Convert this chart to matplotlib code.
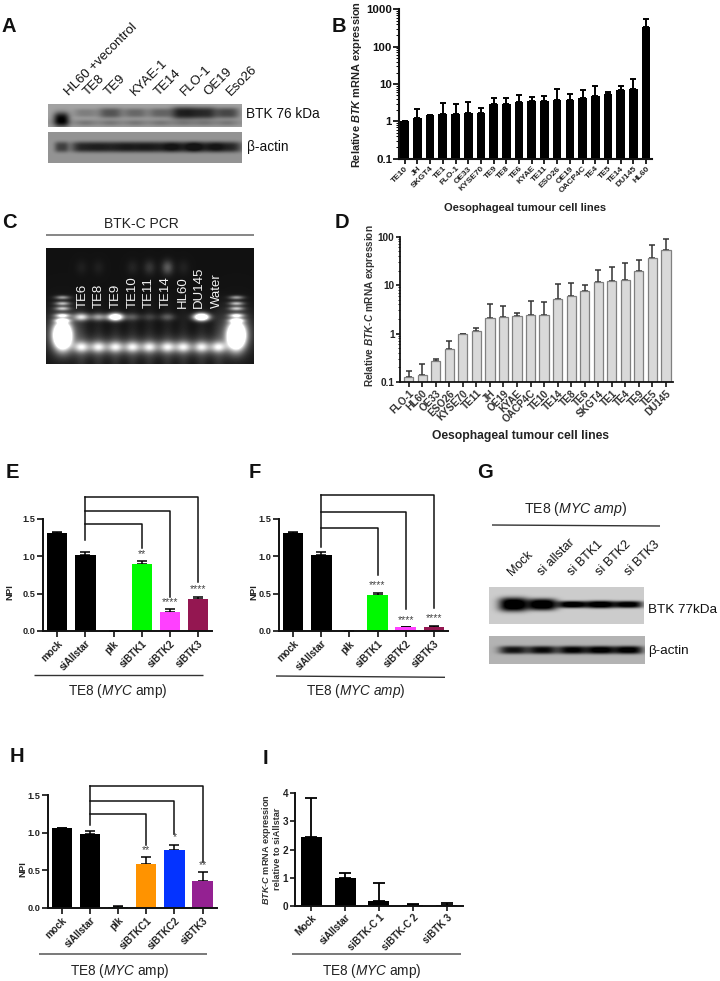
import numpy as np
import matplotlib
matplotlib.use("Agg")
import matplotlib.pyplot as plt

plt.rcParams['font.family'] = ['Liberation Sans', 'DejaVu Sans']
plt.rcParams['mathtext.fontset'] = 'custom'
plt.rcParams['mathtext.rm'] = 'Liberation Sans'
plt.rcParams['mathtext.it'] = 'Liberation Sans:italic'
plt.rcParams['mathtext.bf'] = 'Liberation Sans:bold'
plt.rcParams['mathtext.bfit'] = 'Liberation Sans:italic:bold'

W, H = 720, 981

# ---------- data ----------
b_lines = ["TE10", "JH", "SKGT4", "TE1", "FLO-1", "OE33", "KYSE70", "TE9", "TE8", "TE6", "KYAE",
           "TE11", "ESO26", "OE19", "OACP4C", "TE4", "TE5", "TE14", "DU145", "HL60"]
b_vals = [1.0, 1.2, 1.45, 1.55, 1.6, 1.65, 1.7, 2.9, 3.0, 3.3, 3.4, 3.5, 3.7, 3.7, 4.2, 4.7, 5.5, 7.0, 7.2, 330]
b_tops = [1.0, 2.2, 1.5, 3.1, 3.0, 3.3, 2.3, 4.2, 4.1, 5.0, 4.4, 4.9, 7.3, 5.4, 6.9, 8.6, 6.0, 9.0, 14, 560]

d_lines = ["FLO-1", "HL60", "OE33", "ESO26", "KYSE70", "TE11", "JH", "OE19", "KYAE", "OACP4C", "TE10",
           "TE14", "TE8", "TE6", "SKGT4", "TE1", "TE4", "TE9", "TE5", "DU145"]
d_vals = [0.125, 0.14, 0.27, 0.47, 1.0, 1.15, 2.1, 2.2, 2.3, 2.4, 2.45, 5.2, 5.9, 7.5, 11.5, 12.2, 13, 19.5, 36, 54]
d_tops = [0.165, 0.23, 0.30, 0.69, 1.0, 1.32, 4.0, 3.7, 2.7, 4.6, 4.4, 10.6, 11, 10.3, 20.5, 24, 29, 33, 68, 90]

npi_labels_ef = ["mock", "siAllstar", "plk", "siBTK1", "siBTK2", "siBTK3"]
e_vals = [1.31, 1.02, 0, 0.89, 0.25, 0.43]
e_tops = [1.32, 1.05, 0, 0.93, 0.29, 0.46]
e_colors = ["#000000", "#000000", "#000000", "#00f900", "#ff40ff", "#941751"]
e_sig = ["", "", "", "**", "****", "****"]

f_vals = [1.31, 1.02, 0, 0.48, 0.05, 0.06]
f_tops = [1.32, 1.05, 0, 0.51, 0.055, 0.07]
f_colors = ["#000000", "#000000", "#000000", "#00f900", "#ff40ff", "#941751"]
f_sig = ["", "", "", "****", "****", "****"]

h_labels = ["mock", "siAllstar", "plk", "siBTKC1", "siBTKC2", "siBTK3"]
h_vals = [1.06, 0.99, 0.015, 0.585, 0.77, 0.35]
h_tops = [1.07, 1.02, 0.02, 0.67, 0.84, 0.475]
h_colors = ["#000000", "#000000", "#00a030", "#ff9300", "#0433ff", "#942192"]
h_sig = ["", "", "", "**", "*", "**"]

i_labels = ["Mock", "siAllstar", "siBTK-C 1", "siBTK-C 2", "siBTK 3"]
i_vals = [2.45, 0.97, 0.17, 0.02, 0.04]
i_tops = [3.82, 1.18, 0.82, 0.05, 0.10]

a_lanes = ["HL60 +vecontrol", "TE8", "TE9", "KYAE-1", "TE14", "FLO-1", "OE19", "Eso26"]
a_btk = [1.0, 0.28, 0.6, 0.45, 0.48, 1.0, 0.92, 0.7]
a_actin = [0.6, 0.8, 0.8, 0.85, 0.82, 0.8, 0.8, 0.8]

c_lanes = ["TE6", "TE8", "TE9", "TE10", "TE11", "TE14", "HL60", "DU145", "Water"]
c_band = [0.75, 0.5, 1.4, 0.25, 0.15, 0.25, 0.0, 1.6, 0.0]
c_upper = [0.05, 0.05, 0.0, 0.07, 0.14, 0.28, 0.06, 0.0, 0.0]

g_lanes = ["Mock", "si allstar", "si BTK1", "si BTK2", "si BTK3"]
g_btk = [1.0, 1.0, 0.95, 0.95, 0.9]
g_actin = [0.8, 0.85, 0.9, 0.95, 0.95]


# ---------- helpers ----------
fig = plt.figure(figsize=(W / 100, H / 100), dpi=100, facecolor="white")


def px_axes(l, t, r, b):
    return fig.add_axes([l / W, 1 - b / H, (r - l) / W, (b - t) / H])


overlay = fig.add_axes([0, 0, 1, 1], zorder=10)
overlay.set_xlim(0, W)
overlay.set_ylim(H, 0)
overlay.axis("off")


def txt(x, y, s, size=9.5, ha="center", va="center", **kw):
    overlay.text(x, y, s, fontsize=size, ha=ha, va=va, **kw)


def hline(x0, x1, y0, y1=None, color="#333333", lw=1.0):
    overlay.plot([x0, x1], [y0, y0 if y1 is None else y1], color=color, lw=lw, solid_capstyle="butt")


def style(ax, lw=1.4):
    for s in ("top", "right"):
        ax.spines[s].set_visible(False)
    for s in ("left", "bottom"):
        ax.spines[s].set_linewidth(lw)
        ax.spines[s].set_color("#111111")


def bars(ax, vals, tops, colors, width, ecolor="black", elw=1.3, cap=3.0, edge=None, elinew=0):
    x = np.arange(len(vals))
    v = np.array(vals, float)
    t = np.array(tops, float)
    ax.bar(x, v, width=width, color=colors, edgecolor=edge if edge else colors, linewidth=elinew, zorder=2)
    ax.errorbar(x, v, yerr=[np.zeros_like(v), t - v], fmt="none", ecolor=ecolor, elinewidth=elw,
                capsize=cap, capthick=elw, zorder=1)
    return x


def tick_labels(ax, labels, size, color="#222222"):
    ax.set_xticks(np.arange(len(labels)))
    ax.set_xticklabels(labels, rotation=45, ha="right", rotation_mode="anchor",
                       fontsize=size, fontweight="bold", color=color)


def npi_panel(box, vals, tops, colors, labels, sig, bracket_tops, bracket_ends, stem_low, label_x):
    l, t, r, b = box
    ax = px_axes(l, t, r, b)
    style(ax)
    ax.set_ylim(0, 1.5)
    ax.set_xlim(-0.5, 5.5)
    x = bars(ax, vals, tops, colors, 0.72, elw=1.1, cap=3.8)
    tick_labels(ax, labels, 7)
    ax.set_yticks([0, 0.5, 1.0, 1.5])
    ax.set_yticklabels(["0.0", "0.5", "1.0", "1.5"], fontsize=6.6, fontweight="bold", color="#222222")
    ax.tick_params(axis="both", length=4, width=1.2, pad=1.5, color="#111111")
    txt(label_x, (t + b) / 2 + 0.4 * (b - t) / 2 - 5, "NPI", size=6.8, rotation=90, fontweight="bold", color="#222222")
    for i, s in enumerate(sig):
        if s:
            ax.text(x[i], tops[i] + 0.03, s, ha="center", va="bottom", fontsize=7.5, color="#444444",
                    clip_on=False)
    lines = [3, 4, 5]
    ax.plot([1, 1], [stem_low, max(bracket_tops)], color="#111111", lw=1.1, clip_on=False)
    for k, tp, end in zip(lines, bracket_tops, bracket_ends):
        ax.plot([1, k, k], [tp, tp, end], color="#111111", lw=1.1, clip_on=False)
    return ax


def gaussian_field(shape):
    yy, xx = np.mgrid[0:shape[0], 0:shape[1]]
    return xx, yy


def blob(xx, yy, cx, cy, sx, sy, power=2.0):
    return np.exp(-(np.abs((xx - cx) / sx) ** power + np.abs((yy - cy) / sy) ** power) / 2)


def show(box, arr, cmap="gray", vmin=0, vmax=1):
    l, t, r, b = box
    ax = px_axes(l, t, r, b)
    ax.imshow(arr, cmap=cmap, vmin=vmin, vmax=vmax, aspect="auto", interpolation="bilinear")
    ax.axis("off")
    return ax


# ---------- panel letters ----------
for s, x, y in [("A", 8.5, 26), ("B", 339, 26), ("C", 9, 222), ("D", 342, 222), ("E", 12, 472),
                ("F", 255, 472), ("G", 485, 473), ("H", 17, 756), ("I", 265, 758)]:
    txt(x, y, s, size=14.5, fontweight="bold", color="#111111")

# ---------- A: western blot ----------
a_x = np.array([61, 85, 110, 135, 160, 183, 204, 227]) - 48.0
box = (48, 104, 242, 127)
xx, yy = gaussian_field((23, 194))
img = np.full(xx.shape, 0.64) - 0.05 * np.exp(-((yy - 18) / 4.0) ** 2)
for i, (c, v) in enumerate(zip(a_x, a_btk)):
    if i == 0:
        img -= 0.62 * blob(xx, yy, c, 15, 6, 5.5, 2.6)
    else:
        img -= 0.52 * v * blob(xx, yy, c, 8.5, 9.5, 2.8 + 2.0 * v, 3)
        img -= 0.12 * blob(xx, yy, c, 18.5, 8, 2.2)
show(box, np.clip(img, 0, 1))
box = (48, 132, 242, 163)
xx, yy = gaussian_field((31, 194))
img = np.full(xx.shape, 0.58)
for c, v in zip(a_x, a_actin):
    img -= 0.55 * v * blob(xx, yy, c, 14.5, 11.5 if v > 0.7 else 5.5, 4.2, 3)
show(box, np.clip(img, 0.08, 1))
for c, name in zip([71, 90, 111, 137, 161, 187, 210, 233], a_lanes):
    overlay.text(c, 98, name, rotation=45, ha="left", va="bottom", rotation_mode="anchor",
                 fontsize=9.5, color="#111111")
txt(246.5, 114, "BTK 76 kDa", size=9.8, ha="left", color="#111111")
txt(246.5, 147, "β-actin", size=9.8, ha="left", color="#111111")

# ---------- B ----------
ax = px_axes(399, 9.3, 652, 158.7)
style(ax, 1.5)
ax.set_yscale("log")
ax.set_ylim(0.1, 1000)
ax.set_xlim(-0.45, 19.47)
bars(ax, b_vals, b_tops, "black", 0.68, elw=1.4, cap=2.1)
tick_labels(ax, b_lines, 6)
ax.set_yticks([0.1, 1, 10, 100, 1000])
ax.set_yticklabels(["0.1", "1", "10", "100", "1000"], fontsize=8.2, fontweight="bold", color="#111111")
ax.tick_params(axis="y", which="major", length=4, width=1.2, pad=1)
ax.tick_params(axis="y", which="minor", length=2, width=0.7)
ax.tick_params(axis="x", length=3.5, width=1.2, pad=1)
overlay.text(357.5, 84, r"Relative $\mathbfit{BTK}$ mRNA expression", rotation=90, ha="center", va="center",
             fontsize=7.9, fontweight="bold", color="#222222")
txt(525, 208, "Oesophageal tumour cell lines", size=8.05, fontweight="bold", color="#222222")

# ---------- C: gel ----------
box = (46, 248, 254, 364)
xx, yy = gaussian_field((116, 208))
img = np.full(xx.shape, 0.07)
c_x = np.array([81, 98, 115, 132, 149, 167, 183, 201, 218]) - 46.0
for cx, v, u in zip(c_x, c_band, c_upper):
    img += v * blob(xx, yy, cx, 68.5, 5.5, 2.6)
    img += u * blob(xx, yy, cx, 19, 4, 5)
    img += 0.55 * blob(xx, yy, cx, 98.5, 5.5, 3.6)
    img += 0.2 * blob(xx, yy, cx, 98.5, 9, 7)
    img += 0.09 * np.exp(-((xx - cx) / 6.0) ** 2) * np.clip((yy - 40) / 60.0, 0, 1)
for cx in (16.0, 190.0):
    for cy, a in [(49, 0.5), (55, 0.6), (60, 0.6), (67, 0.7), (72, 0.7)]:
        img += a * blob(xx, yy, cx, cy, 5, 1.4)
    img += 2.2 * blob(xx, yy, cx, 87, 6, 9)
    img += 0.3 * blob(xx, yy, cx, 84, 12, 16)
show(box, np.clip(img, 0, 1))
for cx, name in zip([83, 99, 116, 133, 149, 166, 183, 199, 217], c_lanes):
    overlay.text(cx, 308, name, rotation=90, ha="center", va="bottom", fontsize=9.5, color="#f2f2f2")
txt(141, 224, "BTK-C PCR", size=10, color="#222222")
hline(46, 254, 234.7, color="#666666", lw=1.1)

# ---------- D ----------
ax = px_axes(400, 236.7, 673, 382)
style(ax, 1.3)
ax.set_yscale("log")
ax.set_ylim(0.1, 100)
ax.set_xlim(-0.64, 19.52)
bars(ax, d_vals, d_tops, "#d9d9d9", 0.68, ecolor="#333333", elw=1.1, cap=2.0, edge="#808080", elinew=0.9)
tick_labels(ax, d_lines, 7.2, color="#333333")
ax.set_yticks([0.1, 1, 10, 100])
ax.set_yticklabels(["0.1", "1", "10", "100"], fontsize=7.2, fontweight="bold", color="#222222")
ax.tick_params(axis="y", which="major", length=3, width=1.1, pad=1)
ax.tick_params(axis="y", which="minor", length=1.6, width=0.6)
ax.tick_params(axis="x", length=3.5, width=1.1, pad=1)
overlay.text(370, 306, r"Relative $\mathbfit{BTK\text{-}C}$ mRNA expression", rotation=90, ha="center", va="center",
             fontsize=7.2, fontweight="bold", color="#333333")
txt(521, 436, "Oesophageal tumour cell lines", size=8.7, fontweight="bold", color="#222222")

# ---------- E, F, H ----------
npi_panel((43.3, 518.7, 212, 631), e_vals, e_tops, e_colors, npi_labels_ef, e_sig,
          [1.43, 1.60, 1.79], [1.11, 0.46, 0.66], 1.215, 10)
hline(34, 203, 674.7, color="#333333", lw=1.0)
txt(118, 691.5, r"TE8 ($\mathit{MYC}$ amp)", size=9.8, color="#222222")

npi_panel((279.3, 518.7, 447.7, 631), f_vals, f_tops, f_colors, npi_labels_ef, f_sig,
          [1.37, 1.59, 1.82], [0.75, 0.29, 0.31], 1.12, 253.5)
hline(276, 445, 676, 677.3, color="#333333", lw=1.0)
txt(356, 691.5, r"TE8 ($\mathit{MYC\ amp}$)", size=9.8, color="#222222")

npi_panel((47.7, 795.3, 216.7, 907.7), h_vals, h_tops, h_colors, h_labels, h_sig,
          [1.25, 1.43, 1.625], [0.84, 0.98, 0.61], 1.10, 22.7)
hline(39, 207, 953.5, color="#555555", lw=1.1)
txt(120, 971, r"TE8 ($\mathit{MYC}$ amp)", size=9.8, color="#222222")

# ---------- G: western blot ----------
g_x = np.array([513, 542, 572, 600, 628]) - 489.0
box = (489, 587, 644, 624)
xx, yy = gaussian_field((37, 155))
img = np.full(xx.shape, 0.80)
for i, (c, v) in enumerate(zip(g_x, g_btk)):
    sy = [5.5, 4.6, 2.8, 3.0, 2.8][i]
    img -= 0.98 * v * blob(xx, yy, c, 17, 11.5, sy, 3)
show(box, np.clip(img, 0, 1))
box = (489, 636, 645, 664)
xx, yy = gaussian_field((28, 156))
img = np.full(xx.shape, 0.70)
for c, v in zip(g_x, g_actin):
    img -= 0.8 * v * blob(xx, yy, c, 13.5, 11.5, 3.2, 3)
show(box, np.clip(img, 0, 1))
for c, name in zip([514, 544, 574, 602, 631], g_lanes):
    overlay.text(c, 578, name, rotation=45, ha="left", va="bottom", rotation_mode="anchor",
                 fontsize=9, color="#111111")
txt(648, 610, "BTK 77kDa", size=9.7, ha="left", color="#111111")
txt(648, 651, "β-actin", size=9.7, ha="left", color="#111111")
txt(576, 509.5, r"TE8 ($\mathit{MYC\ amp}$)", size=10.2, color="#222222")
hline(492, 660, 525, 526, color="#333333", lw=1.0)

# ---------- I ----------
ax = px_axes(295, 793.3, 463, 905.7)
style(ax)
ax.set_ylim(0, 4)
ax.set_xlim(-0.48, 4.48)
bars(ax, i_vals, i_tops, "black", 0.62, elw=1.3, cap=4.5)
tick_labels(ax, i_labels, 7)
ax.set_yticks([0, 1, 2, 3, 4])
ax.set_yticklabels(["0", "1", "2", "3", "4"], fontsize=7.2, fontweight="bold", color="#222222")
ax.tick_params(axis="both", length=3.5, width=1.1, pad=1.5)
overlay.text(266.5, 849, r"$\mathbfit{BTK\text{-}C}$ mRNA expression", rotation=90, ha="center", va="center",
             fontsize=6.6, fontweight="bold", color="#333333")
overlay.text(277.5, 849, "relative to siAllstar", rotation=90, ha="center", va="center",
             fontsize=6.6, fontweight="bold", color="#333333")
hline(292, 461, 953.5, color="#555555", lw=1.1)
txt(372, 971, r"TE8 ($\mathit{MYC}$ amp)", size=9.8, color="#222222")

fig.savefig("out.png", dpi=100)
